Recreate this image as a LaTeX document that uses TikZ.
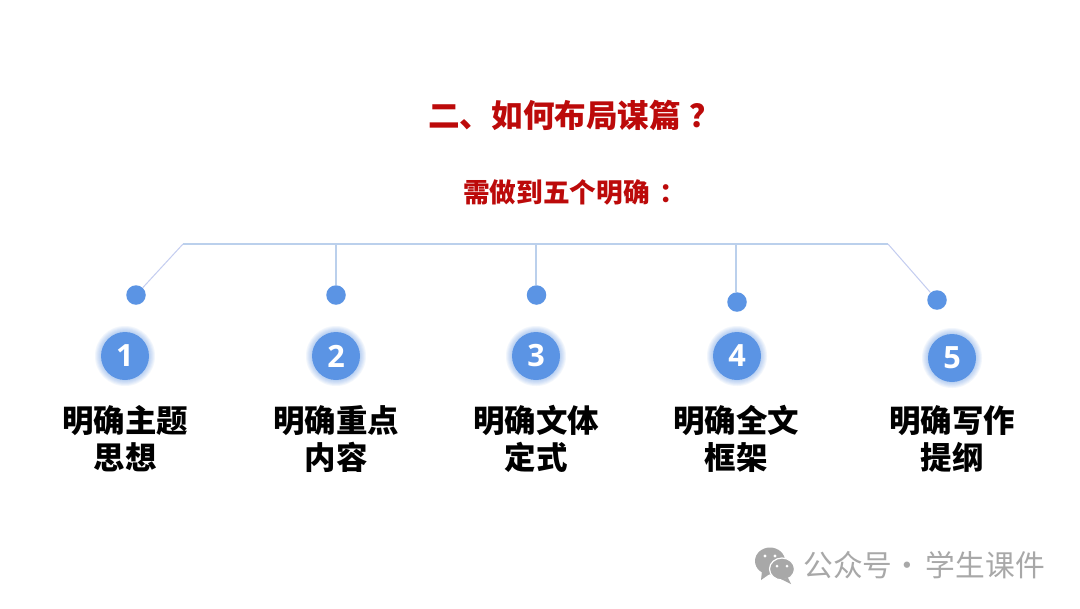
\documentclass[tikz,border=0pt]{standalone}
\usepackage{fontspec}
\newfontfamily\cjk{Noto Sans CJK SC}
\setmainfont{Open Sans}
\definecolor{dotblue}{HTML}{5B94E4}
\definecolor{linea}{HTML}{BBD0EC}
\definecolor{lineb}{HTML}{C4CDF0}
\definecolor{titlered}{HTML}{BC0A0A}
\definecolor{wm}{HTML}{A8A8A8}
\tikzset{
  dotnode/.style={circle,fill=dotblue,minimum size=19.5*0.75pt,inner sep=0pt},
  badge/.style={circle,fill=dotblue,minimum size=48*0.75pt,inner sep=0pt,text=white,font=\fontsize{23}{23}\selectfont\bfseries},
  glow/.style={circle,fill=dotblue,opacity=.08,inner sep=0pt,draw=none},
  label/.style={align=center,font=\cjk\fontsize{23.6}{28}\selectfont\bfseries,text=black},
  trunk/.style={draw=linea,line width=1.5*0.75pt},
  branch/.style={draw=linea,line width=1.3*0.75pt},
  slant/.style={draw=lineb,line width=1*0.75pt},
  wechat/.style={fill=wm,draw=white,line width=.9pt},
}
\newcommand{\glowat}[1]{%
  \foreach \gs in {60,58,56,54,52,50}{\node[glow,minimum size=\gs*0.75pt] at (#1) {};}}
\begin{document}
\begin{tikzpicture}[x=0.75pt,y=-0.75pt]
\useasboundingbox (0,0) rectangle (1080,608);
\fill[white] (0,0) rectangle (1080,608);
\node[anchor=west,inner sep=0pt,text=titlered,font=\cjk\fontsize{23.7}{26}\selectfont\bfseries] (title) at (428,115) {二、如何布局谋篇\hspace{6pt}？};
\node[anchor=west,inner sep=0pt,text=titlered,font=\cjk\fontsize{20}{20}\selectfont\bfseries] (sub) at (463,192) {需做到五个明确\hspace{7.5pt}：};
\coordinate (tl) at (183,244);
\coordinate (tr) at (888,244);
\coordinate (t2) at (336,244);
\coordinate (t3) at (536,244);
\coordinate (t4) at (736,244);
\node[dotnode] (d1) at (136,295) {};
\node[dotnode] (d2) at (336,295) {};
\node[dotnode] (d3) at (536.5,295) {};
\node[dotnode] (d4) at (737,302) {};
\node[dotnode] (d5) at (937,300) {};
\draw[trunk] (tl) -- (tr);
\draw[branch] (t2) -- (d2.north);
\draw[branch] (t3) -- (t3 |- d3.north);
\draw[branch] (t4) -- (t4 |- d4.north);
\draw[slant] (tl) -- (d1);
\draw[slant] (tr) -- (d5);
\glowat{125,356}\glowat{336,356}\glowat{536,356}\glowat{737,356}\glowat{952,358}
\node[badge] (b1) at (125,356) {1};
\node[badge] (b2) at (336,356) {2};
\node[badge] (b3) at (536,356) {3};
\node[badge] (b4) at (737,356) {4};
\node[badge] (b5) at (952,358) {5};
\node[label] (l1) at (125,439) {明确主题\\思想};
\node[label] (l2) at (336,439) {明确重点\\内容};
\node[label] (l3) at (536,439) {明确文体\\定式};
\node[label] (l4) at (736,439) {明确全文\\框架};
\node[label] (l5) at (952,439) {明确写作\\提纲};
% WeChat mark
\fill[wm] (770,561) ellipse (15 and 13.5);
\fill[wm] (762,571) -- (761,580) -- (771,573) -- cycle;
\draw[wechat] (782,569) ellipse (12.5 and 11);
\fill[wm] (788,578) -- (791,584) -- (781,579) -- cycle;
\fill[white] (765,556) circle (1.7) (775,556) circle (1.7) (777,566) circle (1.5) (787,566) circle (1.5);
\node[anchor=west,inner sep=0pt,text=wm,font=\cjk\fontsize{22.3}{22}\selectfont] (wmtext) at (803,565) {公众号\hspace{0.25pt}·\hspace{2.5pt}学生课件};
\end{tikzpicture}
\end{document}
